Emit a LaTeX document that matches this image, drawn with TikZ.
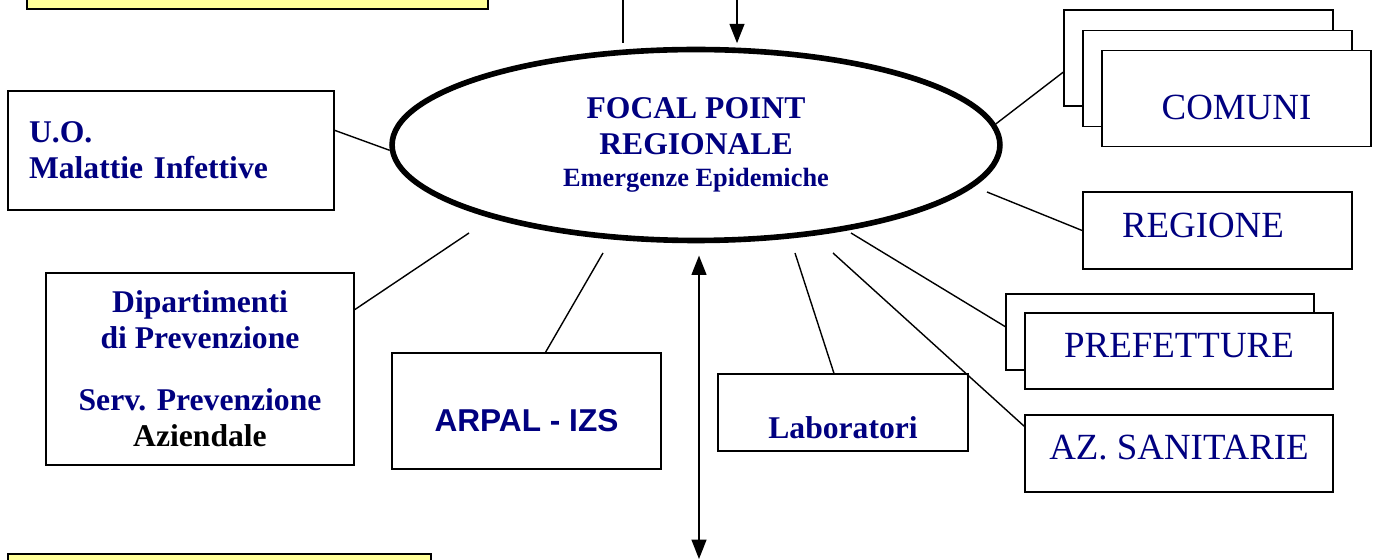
\documentclass[tikz,border=0pt]{standalone}
\usepackage{fontspec}
\setmainfont{Liberation Serif}
\newfontfamily\arialfont{Liberation Sans}
\usetikzlibrary{arrows.meta,shapes.geometric}
\definecolor{navyblue}{RGB}{0,0,128}
\definecolor{noteyellow}{RGB}{255,255,153}

\begin{document}
\begin{tikzpicture}[x=0.02cm,y=-0.02cm,>={Triangle[length=11pt,width=8.5pt]},
	box/.style={draw,line width=1pt,fill=white,inner sep=0pt,text=navyblue,font=\fontsize{21}{24}\selectfont},
	bbox/.style={box,font=\bfseries\fontsize{18}{20.4}\selectfont},
	note/.style={draw,line width=0.8pt,fill=noteyellow},
	link/.style={line width=0.8pt}]

\clip (0,0) rectangle (1377,560);

\node[note,minimum width=9.22cm,minimum height=1.18cm]   (note1) at (257.5,-20.5)   {};
\node[note,minimum width=8.46cm,minimum height=1.2cm]    (note2) at (219.5,584)     {};

\node[ellipse,draw,line width=3.2pt,minimum width=12.16cm,minimum height=3.82cm,align=center,
	text=navyblue,font=\bfseries\fontsize{18}{20.4}\selectfont]   (fp) at (696,145)
	{FOCAL POINT\\ REGIONALE\\[-2.3pt] {\fontsize{15}{18}\selectfont Emergenze Epidemiche}};

\node[bbox,minimum width=6.52cm,minimum height=2.38cm,text width=5.68cm,align=left,inner xsep=0.42cm]   (uo) at (171,150.5)
	{U.O.\\ Malattie Infettive};
\node[bbox,minimum width=6.16cm,minimum height=3.84cm,align=center]   (dip) at (200,369)
	{Dipartimenti\\ di Prevenzione\\[15pt] Serv. Prevenzione\\ \textcolor{black}{Aziendale}};
\node[box,font=\arialfont\bfseries\fontsize{18}{20}\selectfont,minimum width=5.38cm,minimum height=2.32cm,
	text height=23.8pt,text depth=0pt]   (arpal) at (526.5,411)   {ARPAL - IZS};
\node[bbox,minimum width=5cm,minimum height=1.54cm,text height=30pt,text depth=0pt]   (lab) at (843,412.5)   {Laboratori};

% stacked boxes on the right
\node[box,minimum width=5.38cm,minimum height=1.92cm]   (comb) at (1198.5,58)     {};
\node[box,minimum width=5.38cm,minimum height=1.92cm]   (comm) at (1217.5,78.5)   {};
\node[box,minimum width=5.38cm,minimum height=1.92cm,text height=24.4pt,text depth=0pt]   (com) at (1236.5,98.5)   {COMUNI};
\node[box,minimum width=5.38cm,minimum height=1.54cm,text width=3.82cm,align=left,inner xsep=0.78cm,
	text height=8.5pt,text depth=0pt]   (reg) at (1217.5,230.5)   {REGIONE};
\node[box,minimum width=6.16cm,minimum height=1.52cm]   (prefb) at (1160,332)   {};
\node[box,minimum width=6.16cm,minimum height=1.52cm,text height=7.9pt,text depth=0pt]   (pref) at (1179,351)   {PREFETTURE};
\node[box,minimum width=6.16cm,minimum height=1.54cm,text height=7.4pt,text depth=0pt]   (az) at (1179,453.5)   {AZ. SANITARIE};

\coordinate (dip-end)   at (469,233);
\coordinate (arpal-end) at (603,253);
\coordinate (lab-end)   at (795,253);
\coordinate (az-end)    at (833,253);
\coordinate (pref-end)  at (851,233);
\coordinate (reg-end)   at (987,192);
\coordinate (top-a)     at (623,0);
\coordinate (top-b)     at (737,0);
\coordinate (bot)       at (699,559);

\draw[link] (uo.7)      -- (fp.181);
\draw[link] (dip.21)    -- (dip-end);
\draw[link] (arpal.72)  -- (arpal-end);
\draw[link] (lab.103)   -- (lab-end);
\draw[link] (az.170)    -- (az-end);
\draw[link] (prefb.178) -- (pref-end);
\draw[link] (reg.west)  -- (reg-end);
\draw[link] (comb.186)  -- (fp.4);

\draw[link,shorten >=2pt]    (top-a) -- (top-a |- fp.north);
\draw[link,->,shorten >=2pt] (top-b) -- (top-b |- fp.north);
\draw[link,<->,shorten <=7pt] (bot |- fp.south) -- (bot);
\end{tikzpicture}
\end{document}
